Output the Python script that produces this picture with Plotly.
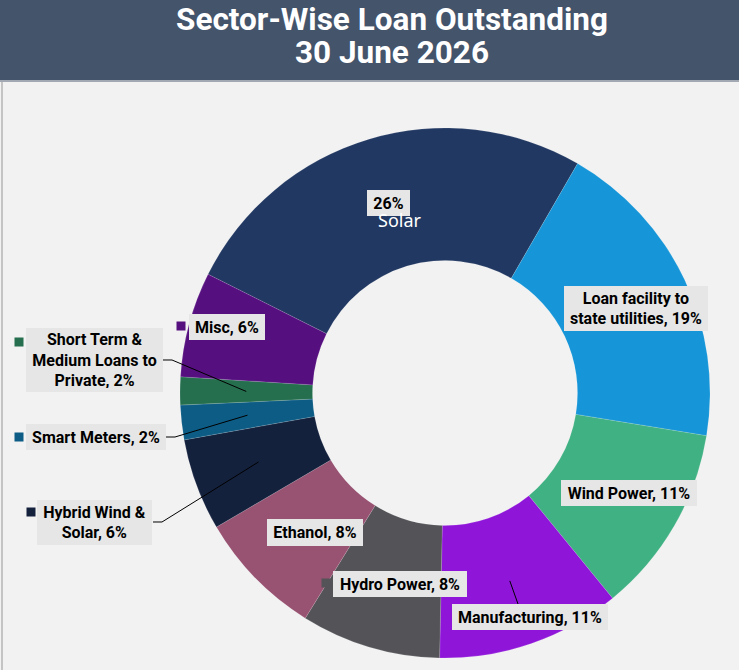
import math

import plotly.graph_objects as go

W, H = 739, 670

# Slices in clockwise order, starting with Solar at the top.
sectors = [
    "Solar",
    "Loan facility to state utilities",
    "Wind Power",
    "Manufacturing",
    "Hydro Power",
    "Ethanol",
    "Hybrid Wind & Solar",
    "Smart Meters",
    "Short Term & Medium Loans to Private",
    "Misc",
]
shares = [25.9, 19.2, 11.5, 11.2, 8.5, 7.7, 5.6, 2.1, 1.7, 6.4]
pct_labels = ["26%", "19%", "11%", "11%", "8%", "8%", "6%", "2%", "2%", "6%"]
colors = [
    "#213862",
    "#1696d8",
    "#40b183",
    "#8f16d9",
    "#545358",
    "#985272",
    "#14213d",
    "#0d5c85",
    "#256f4f",
    "#560f7f",
]

# label text as wrapped in the original (Solar only shows its percent in the box)
label_texts = [
    "26%",
    "Loan facility to<br>state utilities, 19%",
    "Wind Power, 11%",
    "Manufacturing, 11%",
    "Hydro Power, 8%",
    "Ethanol, 8%",
    "Hybrid Wind &<br>Solar, 6%",
    "Smart Meters, 2%",
    "Short Term &<br>Medium Loans to<br>Private, 2%",
    "Misc, 6%",
]
title_lines = ["Sector-Wise Loan Outstanding", "30 June 2026"]

# donut geometry in pixels
CX, CY, R = 445, 393, 265
ROTATION = -63.4

# label box centres / sizes (pixels), legend keys and which slices get leader lines
label_boxes = {
    0: (388, 203, 43, 26),
    1: (636, 308, 144, 45),
    2: (629, 493, 136, 26),
    3: (530, 617, 156, 26),
    4: (400, 584, 134, 26),
    5: (315, 532, 96, 27),
    6: (95, 522, 115, 45),
    7: (96, 437, 140, 26),
    8: (94, 360, 137, 64),
    9: (227, 327, 76, 26),
}
legend_keys = {4: (326, 583), 6: (31, 512), 7: (19, 437), 8: (19, 342), 9: (181, 326)}
leader_starts = {3: [(518, 604)], 6: [(153, 522), (162, 522)], 7: [(166, 437), (175, 437)], 8: [(163, 360), (172, 360)]}


def px(x, y):
    return x / W, 1 - y / H


total = sum(shares)
mid_angles = []
cum = 0
for v in shares:
    mid_angles.append(ROTATION + (cum + v / 2) / total * 360)
    cum += v


def ring_point(i, frac=0.75):
    a = math.radians(mid_angles[i])
    return px(CX + frac * R * math.sin(a), CY - frac * R * math.cos(a))


fig = go.Figure(
    go.Pie(
        labels=sectors,
        values=shares,
        sort=False,
        direction="clockwise",
        rotation=ROTATION,
        hole=0.5,
        marker=dict(colors=colors, line=dict(color="rgba(255,255,255,0.25)", width=0.5)),
        textinfo="none",
        showlegend=False,
        domain=dict(x=[(CX - R) / W, (CX + R) / W], y=[1 - (CY + R) / H, 1 - (CY - R) / H]),
    )
)

shapes = [
    # title bar
    dict(type="rect", xref="paper", yref="paper", x0=0, x1=1, y0=1 - 80 / H, y1=1,
         fillcolor="#44546a", line=dict(width=0), layer="below"),
    dict(type="rect", xref="paper", yref="paper", x0=0, x1=1, y0=1 - 82 / H, y1=1 - 80 / H,
         fillcolor="#a3a9b3", line=dict(width=0), layer="below"),
    # left frame edge
    dict(type="rect", xref="paper", yref="paper", x0=1 / W, x1=3 / W, y0=0, y1=1 - 82 / H,
         fillcolor="#c4c4c4", line=dict(width=0), layer="below"),
]

for i, pts in leader_starts.items():
    coords = [px(*p) for p in pts] + [ring_point(i)]
    path = "M " + " L ".join(f"{x:.5f},{y:.5f}" for x, y in coords)
    shapes.append(dict(type="path", xref="paper", yref="paper", path=path,
                       line=dict(color="#000000", width=1)))

for i, (kx, ky) in legend_keys.items():
    x0, y0 = px(kx - 4.5, ky + 4.5)
    x1, y1 = px(kx + 4.5, ky - 4.5)
    shapes.append(dict(type="rect", xref="paper", yref="paper", x0=x0, x1=x1, y0=y0, y1=y1,
                       fillcolor=colors[i], line=dict(width=0)))

annotations = []
for line, ty in zip(title_lines, [19, 52]):
    annotations.append(dict(
        text=f"<b>{line}</b>", xref="paper", yref="paper", x=392 / W, y=1 - ty / H,
        xanchor="center", yanchor="middle", showarrow=False,
        font=dict(family="Roboto", size=31.5, color="#ffffff"),
    ))

for i, (bx, by, bw, bh) in label_boxes.items():
    x, y = px(bx, by)
    annotations.append(dict(
        text=f"<b>{label_texts[i]}</b>", xref="paper", yref="paper", x=x, y=y,
        xanchor="center", yanchor="middle", showarrow=False,
        width=bw - 8, height=bh - 8, borderpad=4, borderwidth=0,
        bgcolor="#e6e6e6", font=dict(family="Roboto", size=16, color="#000000"),
    ))

sx, sy = px(400, 220)
annotations.append(dict(text=sectors[0], xref="paper", yref="paper", x=sx, y=sy,
                        xanchor="center", yanchor="middle", showarrow=False,
                        font=dict(family="Noto Sans", size=18, color="#ffffff")))

fig.update_layout(
    width=W,
    height=H,
    margin=dict(l=0, r=0, t=0, b=0),
    paper_bgcolor="#f2f2f2",
    plot_bgcolor="#f2f2f2",
    shapes=shapes,
    annotations=annotations,
)

fig.write_html(
    "out.html",
    config={"displayModeBar": False},
    post_script="document.body.style.margin='0';",
)
